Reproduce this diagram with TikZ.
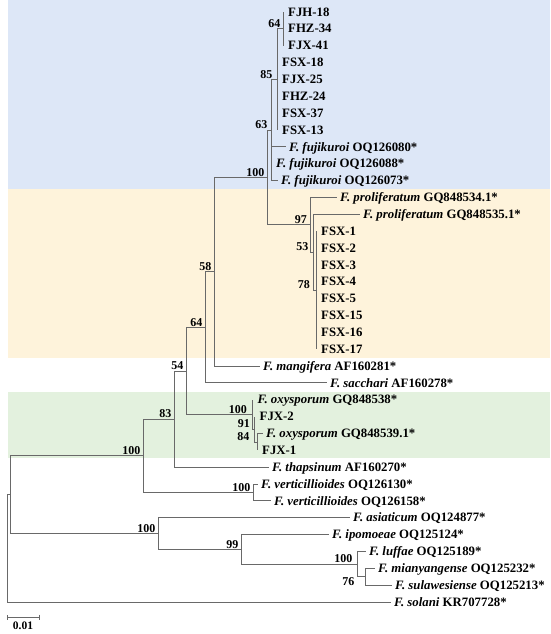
\documentclass[tikz,border=0pt]{standalone}
\usepackage{fontspec}
\setmainfont{Liberation Serif}
\usepackage{tikz}
\usetikzlibrary{arrows.meta}
\definecolor{cladeblue}{RGB}{221,231,247}
\definecolor{cladegold}{RGB}{254,243,219}
\definecolor{cladegreen}{RGB}{227,241,222}
\definecolor{branchgray}{RGB}{105,105,105}
\tikzset{branch/.style={draw=branchgray,line width=0.9pt}}
\tikzset{leaf/.style={anchor=west,inner xsep=3pt,inner ysep=0pt,text height=8.7pt,text depth=0.5pt,font=\fontsize{12.8}{14}\selectfont\bfseries}}
\tikzset{zero/.style={leaf,inner xsep=5pt}}
\tikzset{boot/.style={anchor=south east,inner sep=0.5pt,xshift=-2pt,yshift=0.5pt,font=\fontsize{12}{13}\selectfont\bfseries}}

\begin{document}
\begin{tikzpicture}[x=1pt,y=-1pt]
		\useasboundingbox (0,0) rectangle (550,634);
		\fill[cladeblue] (8,0) rectangle (550,189);
		\fill[cladegold] (8,189) rectangle (550,358);
		\fill[cladegreen] (8,392) rectangle (550,458);
		% internal nodes
		\coordinate (n64) at (283,28.9);
		\coordinate (n85) at (277,79.4);
		\coordinate (n63) at (271,130.0);
		\coordinate (n78) at (316,290.2);
		\coordinate (n53) at (313,252.3);
		\coordinate (n97) at (310,224.9);
		\coordinate (nfp) at (267,177.5);
		\coordinate (n58) at (214,271.8);
		\coordinate (n64b) at (205,327.4);
		\coordinate (n84) at (257,442.0);
		\coordinate (n91) at (254.5,429.3);
		\coordinate (nox) at (252.5,414.6);
		\coordinate (n54) at (186,371.0);
		\coordinate (n83) at (174,419.1);
		\coordinate (nver) at (253,492.5);
		\coordinate (nfo) at (143,455.8);
		\coordinate (n76) at (365,576.8);
		\coordinate (nlm) at (357,564.2);
		\coordinate (n99) at (241,549.4);
		\coordinate (nas) at (158,533.6);
		\coordinate (nA) at (10,494.7);
		\coordinate (root) at (7,548.4);
		% leaves
		\node[zero] (fjh18) at (283,12.0) {FJH-18};
		\node[zero] (fhz34) at (283,28.9) {FHZ-34};
		\node[zero] (fjx41) at (283,45.7) {FJX-41};
		\node[zero] (fsx18) at (277,62.6) {FSX-18};
		\node[zero] (fjx25) at (277,79.4) {FJX-25};
		\node[zero] (fhz24) at (277,96.3) {FHZ-24};
		\node[zero] (fsx37) at (277,113.2) {FSX-37};
		\node[zero] (fsx13) at (277,130.0) {FSX-13};
		\node[leaf] (fuj080) at (286,146.9) {\textit{F. fujikuroi} OQ126080*};
		\node[zero] (fuj088) at (271,163.7) {\textit{F. fujikuroi} OQ126088*};
		\node[leaf] (fuj073) at (278,180.6) {\textit{F. fujikuroi} OQ126073*};
		\node[leaf] (pro534) at (337,197.5) {\textit{F. proliferatum} GQ848534.1*};
		\node[leaf] (pro535) at (360,214.3) {\textit{F. proliferatum} GQ848535.1*};
		\node[zero] (fsx1) at (316,231.2) {FSX-1};
		\node[zero] (fsx2) at (316,248.0) {FSX-2};
		\node[zero] (fsx3) at (316,264.9) {FSX-3};
		\node[zero] (fsx4) at (316,281.8) {FSX-4};
		\node[zero] (fsx5) at (316,298.6) {FSX-5};
		\node[zero] (fsx15) at (316,315.5) {FSX-15};
		\node[zero] (fsx16) at (316,332.3) {FSX-16};
		\node[zero] (fsx17) at (316,349.2) {FSX-17};
		\node[leaf] (man) at (260,366.1) {\textit{F. mangifera} AF160281*};
		\node[leaf] (sac) at (327,382.9) {\textit{F. sacchari} AF160278*};
		\node[zero] (oxy538) at (252.5,399.8) {\textit{F. oxysporum} GQ848538*};
		\node[zero] (fjx2) at (254.5,416.6) {FJX-2};
		\node[leaf] (oxy539) at (263,433.5) {\textit{F. oxysporum} GQ848539.1*};
		\node[zero] (fjx1) at (257,450.4) {FJX-1};
		\node[leaf] (tha) at (269,467.2) {\textit{F. thapsinum} AF160270*};
		\node[leaf] (ver130) at (258,484.1) {\textit{F. verticillioides} OQ126130*};
		\node[leaf] (ver158) at (271,500.9) {\textit{F. verticillioides} OQ126158*};
		\node[leaf] (asi) at (350,517.8) {\textit{F. asiaticum} OQ124877*};
		\node[leaf] (ipo) at (329,534.7) {\textit{F. ipomoeae} OQ125124*};
		\node[leaf] (luf) at (366,551.5) {\textit{F. luffae} OQ125189*};
		\node[leaf] (mia) at (375,568.4) {\textit{F. mianyangense} OQ125232*};
		\node[leaf] (sul) at (392,585.2) {\textit{F. sulawesiense} OQ125213*};
		\node[leaf] (sol) at (391,602.1) {\textit{F. solani} KR707728*};
		% branches
		\draw[branch] (n64) |- (fjh18.west) (n64) |- (fhz34.west) (n64) |- (fjx41.west);
		\draw[branch] (n85) |- (n64) (n85) |- (fsx18.west) (n85) |- (fjx25.west) (n85) |- (fhz24.west) (n85) |- (fsx37.west) (n85) |- (fsx13.west);
		\draw[branch] (n63) |- (n85) (n63) |- (fuj080.west) (n63) |- (fuj088.west) (n63) |- (fuj073.west);
		\draw[branch] (n78) |- (fsx1.west) (n78) |- (fsx2.west) (n78) |- (fsx3.west) (n78) |- (fsx4.west) (n78) |- (fsx5.west) (n78) |- (fsx15.west) (n78) |- (fsx16.west) (n78) |- (fsx17.west);
		\draw[branch] (n53) |- (pro535.west) (n53) |- (n78);
		\draw[branch] (n97) |- (pro534.west) (n97) |- (n53);
		\draw[branch] (nfp) |- (n63) (nfp) |- (n97);
		\draw[branch] (n58) |- (nfp) (n58) |- (man.west);
		\draw[branch] (n64b) |- (n58) (n64b) |- (sac.west);
		\draw[branch] (n84) |- (oxy539.west) (n84) |- (fjx1.west);
		\draw[branch] (n91) |- (fjx2.west) (n91) |- (n84);
		\draw[branch] (nox) |- (oxy538.west) (nox) |- (n91);
		\draw[branch] (n54) |- (n64b) (n54) |- (nox);
		\draw[branch] (n83) |- (n54) (n83) |- (tha.west);
		\draw[branch] (nver) |- (ver130.west) (nver) |- (ver158.west);
		\draw[branch] (nfo) |- (n83) (nfo) |- (nver);
		\draw[branch] (n76) |- (mia.west) (n76) |- (sul.west);
		\draw[branch] (nlm) |- (luf.west) (nlm) |- (n76);
		\draw[branch] (n99) |- (ipo.west) (n99) |- (nlm);
		\draw[branch] (nas) |- (asi.west) (nas) |- (n99);
		\draw[branch] (nA) |- (nfo) (nA) |- (nas);
		\draw[branch] (root) |- (nA) (root) |- (sol.west);
		% bootstrap values
		\node[boot] (b64) at (n64) {64};
		\node[boot,xshift=-2pt] (b85) at (n85) {85};
		\node[boot,xshift=-1pt] (b63) at (n63) {63};
		\node[boot] (bfp) at (nfp) {100};
		\node[boot,xshift=-0.5pt] (b97) at (n97) {97};
		\node[boot,xshift=-2pt] (b53) at (n53) {53};
		\node[boot,xshift=-3.5pt] (b78) at (n78) {78};
		\node[boot] (b58) at (n58) {58};
		\node[boot] (b64b) at (n64b) {64};
		\node[boot] (b54) at (n54) {54};
		\node[boot,xshift=-3pt] (box) at (nox) {100};
		\node[boot,xshift=-2pt] (b91) at (n91) {91};
		\node[boot,xshift=-5pt] (b84) at (n84) {84};
		\node[boot] (b83) at (n83) {83};
		\node[boot] (bfo) at (nfo) {100};
		\node[boot] (bver) at (nver) {100};
		\node[boot] (bas) at (nas) {100};
		\node[boot] (b99) at (n99) {99};
		\node[boot,xshift=-2pt] (blm) at (nlm) {100};
		\node[boot,anchor=north east,xshift=-8pt,yshift=-1pt] (b76) at (n76) {76};
		% scale bar
		\coordinate (sbl) at (7,617);
		\coordinate (sbr) at (40,617);
		\draw[branch,{Bar[width=5pt]}-{Bar[width=5pt]}] (sbl) -- (sbr);
		\node[font=\fontsize{11.5}{13}\selectfont\bfseries,inner sep=0pt] (sbt) at (23,626) {0.01};
	\end{tikzpicture}
\end{document}
